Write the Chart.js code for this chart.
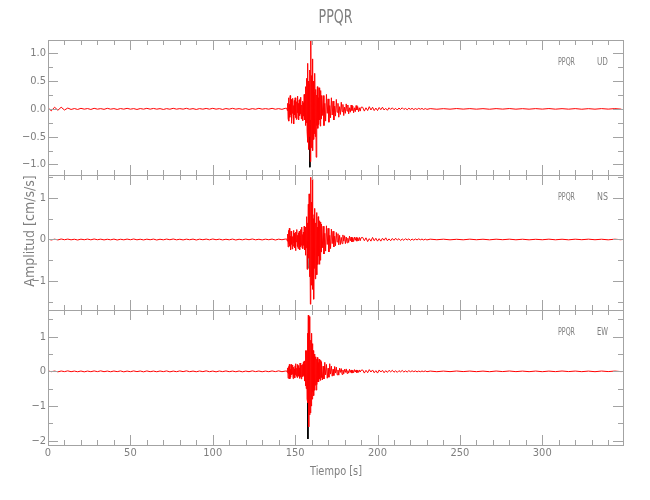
<!DOCTYPE html>
<html>
<head>
<meta charset="utf-8">
<script src="https://cdn.jsdelivr.net/npm/chart.js@4.4.1/dist/chart.umd.min.js"></script>
<style>
    body { margin: 0; background: #fff; }
    #contenedor { width: 650px; height: 500px; }
</style>
</head>
<body>
<div id="contenedor"><canvas id="sismo" width="650" height="500"></canvas></div>
<script>
const udPre = [0.02,-0.035,0.03,-0.025,0.03,-0.02,0.015,-0.01,0.006,-0.01, 0.01,-0.005,0.006,-0.01,0.01,-0.005,0.005,-0.008,0.01,-0.005, 0.005,-0.01,0.006,-0.005,0.01,-0.005,0.005,-0.01,0.006,-0.005, 0.01,-0.005,0.008,-0.005,0.005,-0.01,0.005,-0.006,0.01,-0.005, 0.005,-0.005,0.01,-0.006,0.005,-0.01,0.005,-0.005,0.008,-0.005, 0.01,-0.005,0.005,-0.01,0.006,-0.005,0.01,-0.005,0.005,-0.008, 0.005,-0.01,0.005,-0.006,0.01,-0.005,0.005,-0.005,0.01,-0.006, 0.005,-0.008,0.01];
const udFuerte = [0.01, -0.03, 0.1, -0.18, 0.2, -0.22, 0.08, -0.15, 0.24, -0.1, 0.17, -0.26,
    0.12, -0.08, 0.19, -0.14, 0.06, -0.27, 0.15, -0.11, 0.2, -0.16, 0.09, -0.19,
    0.13, -0.07, 0.23, -0.17, 0.1, -0.2, 0.16, -0.12, 0.18, -0.09, 0.21, -0.18,
    0.07, -0.15, 0.14, -0.21, 0.11, -0.13, 0.26, -0.2, 0.15, -0.3, 0.4, -0.25,
    0.55, -0.4, 0.82, -0.6, 0.5, -0.73, 0.45, -0.5, 0.7, -0.95, 1.23, -0.7,
    0.6, -0.4, 0.9, -0.75, 0.5, -0.55, 0.3, -0.45, 0.64, -0.5, 0.35, -0.87,
    0.25, -0.3, 0.4, -0.35, 0.2, -0.28, 0.38, -0.2, 0.15, -0.31, 0.33, -0.18, 0.24];
const udSigue = [-0.12, 0.24, -0.3, 0.1, -0.22, 0.26, -0.08, 0.18, -0.24, 0.06,
    -0.16, 0.2, -0.11, 0.14, -0.2, 0.05, -0.13, 0.17, -0.06, 0.1,
    -0.15, 0.04, -0.1, 0.12, -0.05, 0.08, -0.12, 0.03, -0.08, 0.09,
    -0.04, 0.07, -0.09, 0.02, -0.06, 0.07, -0.03, 0.05, -0.07, 0.02,
    -0.05, 0.06, -0.02, 0.04, -0.05, 0.02, -0.04, 0.03];
const udCola = [0.03,-0.04,0.02,-0.03,0.04,-0.02,0.03,-0.03,0.015,-0.03, 0.025,-0.015,0.03,-0.02,0.01,-0.025,0.02,-0.01,0.02,-0.015, 0.01,-0.02,0.015,-0.01,0.02,-0.01,0.008,-0.015,0.012,-0.008, 0.01,-0.012,0.006,-0.01,0.01,-0.006,0.008,-0.01,0.006,-0.008];
const udFin = [0.005,-0.006,0.004,-0.005,0.006,-0.004,0.005,-0.005,0.004,-0.006, 0.005,-0.004,0.006,-0.005,0.004,-0.005,0.005,-0.004,0.006,-0.005, 0.004,-0.005,0.005,-0.006,0.004,-0.005,0.005,-0.004,0.005,-0.005];

const nsPre = [0.01,-0.012,0.008,-0.01,0.012,-0.006,0.01,-0.008,0.006,-0.012, 0.008,-0.006,0.01,-0.008,0.012,-0.006,0.008,-0.01,0.006,-0.008, 0.01,-0.012,0.006,-0.008,0.01,-0.006,0.012,-0.008,0.006,-0.01, 0.008,-0.006,0.01,-0.012,0.006,-0.008,0.01,-0.006,0.012,-0.008, 0.006,-0.01,0.008,-0.006,0.01,-0.012,0.008,-0.006,0.01,-0.008, 0.012,-0.006,0.008,-0.01,0.006,-0.008,0.01,-0.012,0.006,-0.008, 0.01,-0.006,0.012,-0.008,0.006,-0.01,0.008,-0.006,0.01,-0.012, 0.008,-0.006,0.01];
const nsFuerte = [0.01, -0.04, 0.13, -0.18, 0.22, -0.1, 0.27, -0.16, 0.08, -0.25, 0.2, -0.12,
    0.17, -0.23, 0.07, -0.16, 0.22, -0.08, 0.15, -0.2, 0.12, -0.27, 0.18, -0.06,
    0.24, -0.17, 0.1, -0.22, 0.16, -0.12, 0.2, -0.25, 0.09, -0.18, 0.24, -0.14,
    0.3, -0.2, 0.12, -0.22, 0.18, -0.14, 0.32, -0.25, 0.2, -0.38, 0.3, -0.2,
    0.55, -0.72, 0.4, -0.35, 0.85, -0.45, 1.1, -0.9, 0.7, -1.56, 1.5, -1.1,
    0.9, -0.8, 1.46, -1.2, 0.5, -1.44, 0.6, -0.7, 0.75, -0.95, 0.4, -0.5,
    0.65, -0.85, 0.3, -0.6, 0.55, -0.4, 0.45, -0.6, 0.25, -0.5, 0.42, -0.3, 0.37];
const nsSigue = [-0.2, 0.32, -0.35, 0.15, -0.28, 0.33, -0.12, 0.27, -0.3, 0.1,
    -0.22, 0.25, -0.1, 0.2, -0.18, 0.08, -0.15, 0.17, -0.06, 0.14,
    -0.13, 0.1, -0.12, 0.05, -0.1, 0.11, -0.04, 0.09, -0.1, 0.06,
    -0.08, 0.03, -0.07, 0.08, -0.03, 0.06, -0.06, 0.04, -0.05, 0.06,
    -0.02, 0.05, -0.04, 0.04, -0.03, 0.05, -0.03, 0.04];
const nsCola = [0.05,-0.03,0.04,-0.05,0.02,-0.04,0.05,-0.03,0.03,-0.04, 0.02,-0.04,0.03,-0.02,0.04,-0.03,0.015,-0.03,0.025,-0.02, 0.03,-0.015,0.02,-0.025,0.012,-0.02,0.02,-0.012,0.015,-0.02, 0.01,-0.015,0.012,-0.01,0.015,-0.008,0.01,-0.012,0.008,-0.01];
const nsFin = [0.008,-0.006,0.007,-0.008,0.005,-0.007,0.008,-0.006,0.006,-0.008, 0.007,-0.005,0.008,-0.007,0.006,-0.008,0.005,-0.006,0.008,-0.007, 0.006,-0.008,0.007,-0.005,0.008,-0.006,0.006,-0.008,0.007,-0.006];

const ewPre = [0.012,-0.01,0.008,-0.014,0.01,-0.008,0.014,-0.01,0.008,-0.012, 0.01,-0.014,0.008,-0.01,0.012,-0.008,0.014,-0.01,0.008,-0.012, 0.01,-0.008,0.012,-0.014,0.008,-0.01,0.012,-0.008,0.01,-0.014, 0.012,-0.01,0.008,-0.012,0.01,-0.008,0.012,-0.014,0.008,-0.01, 0.012,-0.008,0.014,-0.01,0.008,-0.012,0.01,-0.008,0.014,-0.01, 0.008,-0.014,0.01,-0.008,0.012,-0.01,0.008,-0.012,0.01,-0.014, 0.008,-0.01,0.014,-0.008,0.01,-0.012,0.008,-0.01,0.012,-0.008, 0.014,-0.01,0.008];
const ewFuerte = [0.01, -0.03, 0.1, -0.2, 0.14, -0.08, 0.2, -0.22, 0.06, -0.17, 0.2, -0.1,
    0.15, -0.08, 0.18, -0.21, 0.12, -0.15, 0.07, -0.19, 0.16, -0.1, 0.22, -0.14,
    0.09, -0.18, 0.2, -0.12, 0.17, -0.14, 0.1, -0.2, 0.24, -0.16, 0.12, -0.22,
    0.18, -0.1, 0.2, -0.15, 0.26, -0.12, 0.3, -0.28, 0.2, -0.42, 0.6, -0.5,
    0.6, -0.8, 1.1, -0.9, 1.62, -1.6, 1.58, -1.26, 1.1, -1.2, 0.9, -1.0,
    1.1, -0.8, 0.8, -0.6, 0.6, -0.7, 0.45, -0.55, 0.5, -0.4, 0.42, -0.54,
    0.35, -0.38, 0.4, -0.3, 0.25, -0.3, 0.35, -0.22, 0.3, -0.26, 0.32, -0.18, 0.28];
const ewSigue = [-0.25, 0.15, -0.22, 0.26, -0.1, 0.2, -0.2, 0.09, -0.17, 0.22,
    -0.08, 0.15, -0.14, 0.06, -0.12, 0.14, -0.05, 0.12, -0.1, 0.04,
    -0.11, 0.09, -0.03, 0.08, -0.09, 0.04, -0.07, 0.06, -0.03, 0.07,
    -0.06, 0.02, -0.05, 0.06, -0.03, 0.04, -0.05, 0.03, -0.04, 0.05,
    -0.02, 0.04, -0.04, 0.03, -0.03, 0.04, -0.02, 0.03];
const ewCola = [0.04,-0.05,0.03,-0.04,0.05,-0.02,0.04,-0.04,0.02,-0.05, 0.04,-0.02,0.03,-0.04,0.02,-0.03,0.03,-0.015,0.03,-0.025, 0.015,-0.03,0.02,-0.015,0.025,-0.02,0.012,-0.02,0.02,-0.012, 0.015,-0.01,0.012,-0.015,0.008,-0.012,0.01,-0.008,0.012,-0.01];
const ewFin = [0.008,-0.01,0.007,-0.008,0.01,-0.007,0.008,-0.009,0.007,-0.01, 0.009,-0.007,0.01,-0.008,0.007,-0.009,0.008,-0.01,0.007,-0.008, 0.01,-0.007,0.008,-0.009,0.007,-0.01,0.009,-0.007,0.008,-0.008];

// traza negra que asoma bajo la roja en el pico S
const udNegra = [-0.3, -1.05, -0.2];
const nsNegra = [-0.05, -0.7, -0.1];
const ewNegra = [-0.3, -1.95, -0.4];

// ticks
const tiempoMayor = [0, 50, 100, 150, 200, 250, 300];
const tiempoEtiquetas = ['0', '50', '100', '150', '200', '250', '300'];
const tiempoMenor = [10, 20, 30, 40, 60, 70, 80, 90, 110, 120, 130, 140, 160, 170, 180, 190, 210, 220, 230, 240, 260, 270, 280, 290, 310, 320, 330, 340];

const udMayor = [-1, -0.5, 0, 0.5, 1];
const udEtiquetas = ['\u22121.0', '\u22120.5', '0.0', '0.5', '1.0'];
const udMenor = [-0.75, -0.25, 0.25, 0.75];
const nsMayor = [-1, 0, 1];
const nsEtiquetas = ['\u22121', '0', '1'];
const nsMenor = [-1.5, -0.5, 0.5, 1.5];
const ewMayor = [-2, -1, 0, 1];
const ewEtiquetas = ['\u22122', '\u22121', '0', '1'];
const ewMenor = [-1.5, -0.5, 0.5, 1.5];

const GRIS_EJE = '#a3a3a3';
const GRIS_TEXTO = '#7f7f7f';
const FUENTE = "'Liberation Sans Narrow', 'DejaVu Sans Condensed', 'DejaVu Sans', sans-serif";

// cada tramo: [inicio (s), paso (s), valores]
function serie(tramos) {
    const puntos = [];
    tramos.forEach(([t0, dt, valores]) => {
        valores.forEach((v, i) => puntos.push({ x: t0 + i * dt, y: v }));
    });
    return puntos;
}

const paneles = [
    { eje: 'yUD', nombre: 'UD', mayor: udMayor, etiquetas: udEtiquetas, menor: udMenor },
    { eje: 'yNS', nombre: 'NS', mayor: nsMayor, etiquetas: nsEtiquetas, menor: nsMenor },
    { eje: 'yEW', nombre: 'EW', mayor: ewMayor, etiquetas: ewEtiquetas, menor: ewMenor }
];

const marcos = {
    id: 'marcos',
    afterDatasetsDraw(chart) {
        const ctx = chart.ctx;
        const ex = chart.scales.x;
        const izq = Math.round(ex.left), der = Math.round(ex.right);
        ctx.save();
        ctx.strokeStyle = GRIS_EJE;
        ctx.fillStyle = GRIS_TEXTO;
        ctx.lineWidth = 1;

        paneles.forEach((p, i) => {
            const ey = chart.scales[p.eje];
            const arr = Math.round(ey.top), abj = Math.round(ey.bottom);
            ctx.strokeRect(izq + 0.5, arr + 0.5, der - izq, abj - arr);

            ctx.beginPath();
            const marcaX = (t, largo) => {
                const px = Math.round(ex.getPixelForValue(t)) + 0.5;
                ctx.moveTo(px, abj); ctx.lineTo(px, abj - largo);
                ctx.moveTo(px, arr); ctx.lineTo(px, arr + largo);
            };
            const marcaY = (v, largo) => {
                const py = Math.round(ey.getPixelForValue(v)) + 0.5;
                ctx.moveTo(izq, py); ctx.lineTo(izq + largo, py);
                ctx.moveTo(der, py); ctx.lineTo(der - largo, py);
            };
            tiempoMayor.forEach(t => marcaX(t, 10));
            tiempoMenor.forEach(t => marcaX(t, 5));
            p.mayor.forEach(v => marcaY(v, 10));
            p.menor.forEach(v => marcaY(v, 5));
            ctx.stroke();

            ctx.font = '11px ' + FUENTE;
            ctx.textAlign = 'right';
            ctx.textBaseline = 'middle';
            p.mayor.forEach((v, k) => ctx.fillText(p.etiquetas[k], izq - 2, ey.getPixelForValue(v)));

            ctx.font = '10px ' + FUENTE;
            ctx.textAlign = 'left';
            ctx.fillText('PPQR', der - 65, arr + 22, 17);
            ctx.fillText(p.nombre, der - 26, arr + 22, 11);

            if (i === paneles.length - 1) {
                ctx.font = '11px ' + FUENTE;
                ctx.textAlign = 'center';
                tiempoMayor.forEach((t, k) => ctx.fillText(tiempoEtiquetas[k], ex.getPixelForValue(t), abj + 8));
            }
        });

        ctx.textAlign = 'center';
        ctx.textBaseline = 'middle';
        ctx.font = '19px ' + FUENTE;
        ctx.fillText('PPQR', (izq + der) / 2, 18, 34);
        ctx.font = '13px ' + FUENTE;
        ctx.fillText('Tiempo [s]', 336, 472, 52);
        ctx.font = '14px ' + FUENTE;
        ctx.translate(30, 231);
        ctx.rotate(-Math.PI / 2);
        ctx.fillText('Amplitud [cm/s/s]', 0, 0, 118);
        ctx.restore();
    }
};

const trazo = { borderWidth: 1, pointRadius: 0, fill: false, tension: 0 };

new Chart(document.getElementById('sismo'), {
    type: 'line',
    data: {
        datasets: [
            { label: 'UD', data: serie([[0, 2, udPre], [145, 0.25, udFuerte], [166.5, 0.5, udSigue], [191, 1, udCola], [232, 4, udFin]]), yAxisID: 'yUD', borderColor: '#ff0000', ...trazo },
            { label: 'NS', data: serie([[0, 2, nsPre], [145, 0.25, nsFuerte], [166.5, 0.5, nsSigue], [191, 1, nsCola], [232, 4, nsFin]]), yAxisID: 'yNS', borderColor: '#ff0000', ...trazo },
            { label: 'EW', data: serie([[0, 2, ewPre], [145, 0.25, ewFuerte], [166.5, 0.5, ewSigue], [191, 1, ewCola], [232, 4, ewFin]]), yAxisID: 'yEW', borderColor: '#ff0000', ...trazo },
            { label: 'UD bruto', data: serie([[158.7, 0.25, udNegra]]), yAxisID: 'yUD', borderColor: '#000000', ...trazo },
            { label: 'NS bruto', data: serie([[157.4, 0.2, nsNegra]]), yAxisID: 'yNS', borderColor: '#000000', ...trazo },
            { label: 'EW bruto', data: serie([[157.5, 0.25, ewNegra]]), yAxisID: 'yEW', borderColor: '#000000', ...trazo }
        ]
    },
    options: {
        responsive: false,
        animation: false,
        devicePixelRatio: 1,
        layout: { padding: { left: 48, right: 27, top: 40, bottom: 55 } },
        plugins: { legend: { display: false }, tooltip: { enabled: false } },
        scales: {
            x: { type: 'linear', min: 0, max: 349, display: false },
            yUD: { type: 'linear', min: -1.19, max: 1.24, display: false, position: 'left', stack: 'sismo', stackWeight: 1, weight: 3 },
            yNS: { type: 'linear', min: -1.70, max: 1.555, display: false, position: 'left', stack: 'sismo', stackWeight: 1, weight: 2 },
            yEW: { type: 'linear', min: -2.125, max: 1.77, display: false, position: 'left', stack: 'sismo', stackWeight: 1, weight: 1 }
        }
    },
    plugins: [marcos]
});
</script>
</body>
</html>
